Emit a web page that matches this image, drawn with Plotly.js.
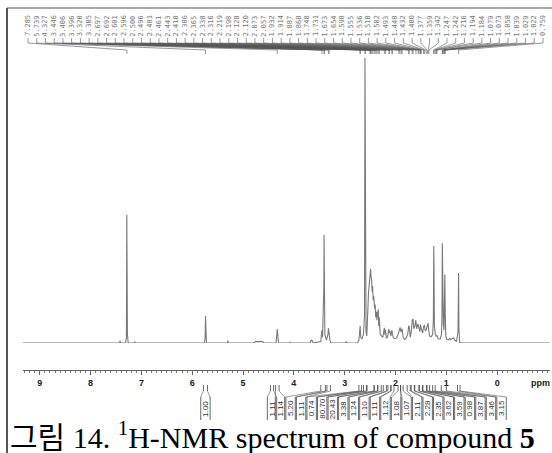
<!DOCTYPE html>
<html>
<head>
<meta charset="utf-8">
<script src="https://cdn.plot.ly/plotly-3.0.1.min.js"></script>
<style>html,body{margin:0;padding:0;background:#fff;}#chart{width:552px;height:453px;}</style>
</head>
<body>
<div id="chart"></div>
<script>
// ---- spectrum trace (ppm, relative intensity; 100 = tallest peak) ----
const specPpm = [9.33,7.45,7.42,7.40,7.31,7.295,7.287,7.282,7.275,7.26,7.14,7.13,7.12,
5.76,5.745,5.739,5.733,5.72,5.31,5.30,5.29,4.80,4.75,4.62,4.58,4.35,4.335,4.327,4.32,4.30,
4.08,4.07,4.06,3.68,3.66,3.64,3.62,3.47,3.45,3.435,3.41,3.406,3.40,3.39,3.36,3.33,3.32,3.31,3.305,3.29,3.27,
2.98,2.97,2.96,2.75,2.72,2.70,2.695,2.685,2.66,2.63,2.61,2.601,2.596,2.59,2.58,2.565,2.55,2.53,2.50,2.49,2.485,
2.47,2.46,2.45,2.44,2.43,2.41,2.40,2.39,2.37,2.365,2.34,2.33,2.32,2.30,2.28,2.25,2.22,2.21,2.20,2.18,2.16,
2.13,2.12,2.11,2.09,2.07,2.06,2.04,2.01,1.98,1.95,1.93,1.91,1.89,1.87,1.85,1.82,1.79,1.76,1.74,1.73,1.71,
1.69,1.67,1.655,1.64,1.62,1.60,1.585,1.56,1.54,1.52,1.51,1.50,1.49,1.465,1.45,1.43,1.42,1.40,1.38,1.36,1.345,
1.33,1.30,1.27,1.255,1.247,1.242,1.235,1.225,1.216,1.20,1.185,1.16,1.12,1.095,1.085,1.079,1.073,1.065,1.058,
1.045,1.035,1.029,1.022,1.01,0.99,0.96,0.93,0.91,0.89,0.86,0.84,0.80,0.77,0.759,0.752,0.74,0.70,-1.04];
const specInt = [0,0,0.6,0,0,2,45,14,3,0,0,0.5,0,
0,2,9.5,2,0,0,0.8,0,0,0.5,0.5,0,0,3,4.9,3.5,0,
0,0.4,0,0,1,0.8,0,0.5,4.5,2,20,38,14,3,1,3,5.2,2.5,4,1,0,
0,0.6,0,0,1,5,6,2,1.5,3,10,100,70,23,4,2.5,9,18,24,26,24,
22,18,20,15,16.5,12,13.5,9,11,8,11.8,6,9,3,2.5,2,5.3,3,4.6,1.8,2,
4.9,3.5,4.3,2.5,4.5,3,1.8,1.5,1.8,3,4.8,5.5,3.8,5,2,1.2,1.8,3,6,5.7,2,
4,8,8.4,5,6,8,5,6.7,5.6,4,6.5,5,4.8,3.5,5.6,6.3,4.5,4.4,6.2,7,4.2,
2.5,2.2,3,8,34,26,6,3.5,3,2.4,2.6,1.5,1.4,3,10,35,22,7,6.5,
4.5,14,24,11,2.5,1.2,1.1,1.6,1.1,1.5,1.8,1.1,0.6,4,24.6,5,0.3,0,0];

// ---- peak picking labels ----
const peakLabels = ['7.285','5.739','4.327','3.446','3.406','3.396','3.320','3.305','2.697','2.692',
'2.601','2.596','2.500','2.496','2.481','2.461','2.443','2.410','2.386','2.365','2.338','2.316',
'2.219','2.198','2.128','2.120','2.073','2.057','1.932','1.914','1.887','1.868','1.740','1.731',
'1.673','1.654','1.598','1.555','1.536','1.510','1.502','1.493','1.448','1.432','1.400','1.377',
'1.359','1.342','1.247','1.242','1.216','1.194','1.184','1.079','1.073','1.058','1.039','1.029',
'1.022','0.759'];

// ---- integrals ----
const integralValues = ['1.00','1.11','1.14','5.20','1.11','0.74','80.70','20.43','3.38','1.24','1.10',
'1.11','1.12','1.08','1.07','2.11','2.28','2.35','3.62','3.59','0.98','3.87','3.46','3.15'];
const intStart = [5.78,4.46,4.36,3.47,3.35,2.72,2.63,2.56,2.42,2.35,2.24,2.15,2.09,1.95,1.90,1.77,1.69,1.62,1.53,1.46,1.38,1.27,1.10,0.78];
const intEnd   = [5.70,4.40,4.29,3.38,3.28,2.67,2.57,2.42,2.35,2.28,2.18,2.09,2.03,1.90,1.85,1.71,1.63,1.54,1.47,1.39,1.33,1.22,1.00,0.73];

const tickLabels = ['9','8','7','6','5','4','3','2','1','0'];

// ---- layout geometry ----
const W = 552, H = 453;
const X0PX = 23, X1PX = 550, PPM_L = 9.33, PPM_R = -1.04;
const ppmAt = px => PPM_L + (px - X0PX) / (X1PX - X0PX) * (PPM_R - PPM_L);
const pxAt = ppm => X0PX + (ppm - PPM_L) / (PPM_R - PPM_L) * (X1PX - X0PX);

// top label connectors
const conX = [], conY = [];
const annotations = [];
peakLabels.forEach((lab, i) => {
  const lx = ppmAt(28 + i * (543 - 28) / (peakLabels.length - 1));
  const pk = parseFloat(lab);
  conX.push(lx, lx, pk, pk, null);
  conY.push(38, 43, 50, 54, null);
  annotations.push({x: lx, y: 26, xref: 'x', yref: 'y2', text: lab, showarrow: false,
    textangle: -90, font: {family: 'DejaVu Sans Mono', size: 7, color: '#777'}});
});

// integral boxes + connectors
const boxX = [], boxY = [], fanX = [], fanY = [], mkX = [], mkY = [];
integralValues.forEach((v, i) => {
  let cpx;
  if (i === 0) cpx = pxAt((intStart[0] + intEnd[0]) / 2);
  else if (i === 1) cpx = 272;
  else cpx = 280 + (i - 2) * 10.55;
  const hw = 4.7;
  const l = ppmAt(cpx - hw), r = ppmAt(cpx + hw);
  boxX.push(l, l, null, r, r, null);
  boxY.push(420, 397, null, 397, 420, null);
  fanX.push(l, intStart[i], null, r, intEnd[i], null);
  fanY.push(397, 391, null, 397, 391, null);
  mkX.push(intStart[i], intStart[i], null, intEnd[i], intEnd[i], null);
  mkY.push(385, 391, null, 385, 391, null);
  annotations.push({x: ppmAt(cpx), y: 408.5, xref: 'x', yref: 'y2', text: v, showarrow: false,
    textangle: -90, font: {family: 'Liberation Sans, Arial', size: 8, color: '#333'}});
});

annotations.push({x: 529 / W, y: 1 - 383 / H, xref: 'paper', yref: 'paper', xanchor: 'left', yanchor: 'middle',
  text: '<b>ppm</b>', showarrow: false, font: {family: 'Liberation Sans, Arial', size: 9, color: '#222'}});
annotations.push({x: 8 / W, y: 1 - 456 / H, xref: 'paper', yref: 'paper', xanchor: 'left', yanchor: 'bottom',
  text: '그림 14. <sup>1</sup>H-NMR spectrum of compound <b>5</b>', showarrow: false,
  font: {family: 'Liberation Serif, Noto Sans CJK KR', size: 30, color: '#000'}});

const traces = [
  {x: specPpm, y: specInt, type: 'scatter', mode: 'lines', line: {color: '#7a7a7a', width: 1.1},
   xaxis: 'x', yaxis: 'y', hoverinfo: 'skip', cliponaxis: false},
  {x: conX, y: conY, type: 'scatter', mode: 'lines', line: {color: '#555', width: 0.6},
   xaxis: 'x', yaxis: 'y2', hoverinfo: 'skip'},
  {x: boxX, y: boxY, type: 'scatter', mode: 'lines', line: {color: '#444', width: 0.8},
   xaxis: 'x', yaxis: 'y2', hoverinfo: 'skip'},
  {x: fanX, y: fanY, type: 'scatter', mode: 'lines', line: {color: '#555', width: 0.6},
   xaxis: 'x', yaxis: 'y2', hoverinfo: 'skip'},
  {x: mkX, y: mkY, type: 'scatter', mode: 'lines', line: {color: '#444', width: 0.8},
   xaxis: 'x', yaxis: 'y2', hoverinfo: 'skip'}
];

const layout = {
  width: W, height: H, margin: {l: 0, r: 0, t: 0, b: 0},
  paper_bgcolor: '#fff', plot_bgcolor: 'rgba(0,0,0,0)', showlegend: false,
  xaxis: {domain: [X0PX / W, X1PX / W], range: [PPM_L, PPM_R], anchor: 'free', position: 1 - 370 / H,
    showgrid: false, zeroline: false, showline: true, linecolor: '#666', linewidth: 1,
    tickmode: 'array', tickvals: tickLabels.map(Number), ticktext: tickLabels,
    ticks: 'outside', ticklen: 4, tickcolor: '#666', tickwidth: 1,
    tickfont: {family: 'Liberation Sans, Arial', size: 9, color: '#222', weight: 'bold'},
    minor: {tickmode: 'linear', tick0: 0, dtick: 0.1, ticks: 'outside', ticklen: 2, tickcolor: '#777', showgrid: false}},
  yaxis: {domain: [1 - 343 / H, 1 - 58 / H], range: [0, 100], visible: false, anchor: 'x', fixedrange: true},
  yaxis2: {domain: [0, 1], range: [H, 0], visible: false, anchor: 'x', fixedrange: true},
  annotations: annotations,
  shapes: [
    {type: 'line', xref: 'paper', yref: 'paper', x0: 7 / W, x1: 1.01, y0: 1 - 8 / H, y1: 1 - 8 / H, line: {color: '#555', width: 1.2}},
    {type: 'line', xref: 'paper', yref: 'paper', x0: 7 / W, x1: 7 / W, y0: 1 - 8 / H, y1: -0.01, line: {color: '#555', width: 2}}
  ]
};

Plotly.newPlot('chart', traces, layout, {staticPlot: true, displayModeBar: false});
</script>
</body>
</html>
